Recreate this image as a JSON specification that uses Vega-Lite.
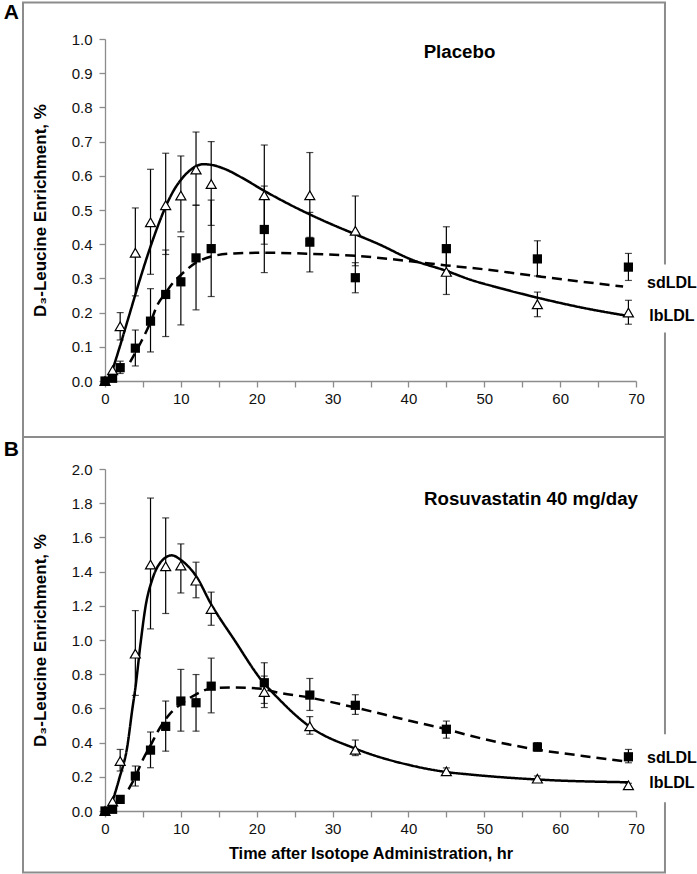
{
  "$schema": "https://vega.github.io/schema/vega-lite/v6.json",
  "background": "white",
  "padding": {"left": 3, "top": 1, "right": 0, "bottom": 0},
  "autosize": {"type": "pad"},
  "spacing": 88,
  "bounds": "flush",
  "config": {
    "font": "Liberation Sans",
    "view": {"stroke": null},
    "axis": {"grid": false, "domainColor": "#8c8c8c", "domainWidth": 1.3, "tickColor": "#8c8c8c", "tickWidth": 1.3, "tickSize": 6, "labelColor": "#111111", "labelFontSize": 15, "labelFont": "Liberation Sans", "titleFont": "Liberation Sans", "titleFontWeight": "bold", "titleColor": "#000000"}
  },
  "datasets": {
    "points": [
      {"panel": "A", "series": "lbLDL", "t": 0, "v": 0.0},
      {"panel": "A", "series": "lbLDL", "t": 1, "v": 0.031},
      {"panel": "A", "series": "lbLDL", "t": 2, "v": 0.16, "lo": 0.12, "hi": 0.2},
      {"panel": "A", "series": "lbLDL", "t": 4, "v": 0.375, "lo": 0.249, "hi": 0.506},
      {"panel": "A", "series": "lbLDL", "t": 6, "v": 0.464, "lo": 0.312, "hi": 0.619},
      {"panel": "A", "series": "lbLDL", "t": 8, "v": 0.514, "lo": 0.37, "hi": 0.666},
      {"panel": "A", "series": "lbLDL", "t": 10, "v": 0.542, "lo": 0.436, "hi": 0.658},
      {"panel": "A", "series": "lbLDL", "t": 12, "v": 0.618, "lo": 0.514, "hi": 0.728},
      {"panel": "A", "series": "lbLDL", "t": 14, "v": 0.576, "lo": 0.455, "hi": 0.7},
      {"panel": "A", "series": "lbLDL", "t": 21, "v": 0.543, "lo": 0.4, "hi": 0.69},
      {"panel": "A", "series": "lbLDL", "t": 27, "v": 0.543, "lo": 0.42, "hi": 0.668},
      {"panel": "A", "series": "lbLDL", "t": 33, "v": 0.439, "lo": 0.337, "hi": 0.541},
      {"panel": "A", "series": "lbLDL", "t": 45, "v": 0.319, "lo": 0.253, "hi": 0.385},
      {"panel": "A", "series": "lbLDL", "t": 57, "v": 0.224, "lo": 0.188, "hi": 0.26},
      {"panel": "A", "series": "lbLDL", "t": 69, "v": 0.2, "lo": 0.166, "hi": 0.236},
      {"panel": "A", "series": "sdLDL", "t": 0, "v": 0.0},
      {"panel": "A", "series": "sdLDL", "t": 1, "v": 0.008},
      {"panel": "A", "series": "sdLDL", "t": 2, "v": 0.039, "lo": 0.022, "hi": 0.058},
      {"panel": "A", "series": "sdLDL", "t": 4, "v": 0.096, "lo": 0.044, "hi": 0.149},
      {"panel": "A", "series": "sdLDL", "t": 6, "v": 0.175, "lo": 0.085, "hi": 0.27},
      {"panel": "A", "series": "sdLDL", "t": 8, "v": 0.253, "lo": 0.13, "hi": 0.383},
      {"panel": "A", "series": "sdLDL", "t": 10, "v": 0.29, "lo": 0.164, "hi": 0.422},
      {"panel": "A", "series": "sdLDL", "t": 12, "v": 0.36, "lo": 0.208, "hi": 0.514},
      {"panel": "A", "series": "sdLDL", "t": 14, "v": 0.387, "lo": 0.247, "hi": 0.529},
      {"panel": "A", "series": "sdLDL", "t": 21, "v": 0.443, "lo": 0.317, "hi": 0.57},
      {"panel": "A", "series": "sdLDL", "t": 27, "v": 0.406, "lo": 0.319, "hi": 0.493},
      {"panel": "A", "series": "sdLDL", "t": 33, "v": 0.302, "lo": 0.258, "hi": 0.346},
      {"panel": "A", "series": "sdLDL", "t": 45, "v": 0.387, "lo": 0.323, "hi": 0.451},
      {"panel": "A", "series": "sdLDL", "t": 57, "v": 0.357, "lo": 0.307, "hi": 0.41},
      {"panel": "A", "series": "sdLDL", "t": 69, "v": 0.333, "lo": 0.294, "hi": 0.373},
      {"panel": "B", "series": "lbLDL", "t": 0, "v": 0.0},
      {"panel": "B", "series": "lbLDL", "t": 1, "v": 0.055},
      {"panel": "B", "series": "lbLDL", "t": 2, "v": 0.292, "lo": 0.234, "hi": 0.36},
      {"panel": "B", "series": "lbLDL", "t": 4, "v": 0.92, "lo": 0.676, "hi": 1.172},
      {"panel": "B", "series": "lbLDL", "t": 6, "v": 1.441, "lo": 1.065, "hi": 1.83},
      {"panel": "B", "series": "lbLDL", "t": 8, "v": 1.431, "lo": 1.155, "hi": 1.714},
      {"panel": "B", "series": "lbLDL", "t": 10, "v": 1.435, "lo": 1.275, "hi": 1.562},
      {"panel": "B", "series": "lbLDL", "t": 12, "v": 1.347, "lo": 1.247, "hi": 1.455},
      {"panel": "B", "series": "lbLDL", "t": 14, "v": 1.181, "lo": 1.086, "hi": 1.28},
      {"panel": "B", "series": "lbLDL", "t": 21, "v": 0.696, "lo": 0.605, "hi": 0.789},
      {"panel": "B", "series": "lbLDL", "t": 27, "v": 0.495, "lo": 0.449, "hi": 0.552},
      {"panel": "B", "series": "lbLDL", "t": 33, "v": 0.358, "lo": 0.324, "hi": 0.415},
      {"panel": "B", "series": "lbLDL", "t": 45, "v": 0.232, "lo": 0.212, "hi": 0.252},
      {"panel": "B", "series": "lbLDL", "t": 57, "v": 0.189, "lo": 0.172, "hi": 0.205},
      {"panel": "B", "series": "lbLDL", "t": 69, "v": 0.15, "lo": 0.14, "hi": 0.162},
      {"panel": "B", "series": "sdLDL", "t": 0, "v": 0.0},
      {"panel": "B", "series": "sdLDL", "t": 1, "v": 0.01},
      {"panel": "B", "series": "sdLDL", "t": 2, "v": 0.068},
      {"panel": "B", "series": "sdLDL", "t": 4, "v": 0.204, "lo": 0.146, "hi": 0.263},
      {"panel": "B", "series": "sdLDL", "t": 6, "v": 0.356, "lo": 0.253, "hi": 0.462},
      {"panel": "B", "series": "sdLDL", "t": 8, "v": 0.495, "lo": 0.35, "hi": 0.643},
      {"panel": "B", "series": "sdLDL", "t": 10, "v": 0.643, "lo": 0.467, "hi": 0.828},
      {"panel": "B", "series": "sdLDL", "t": 12, "v": 0.633, "lo": 0.467, "hi": 0.798},
      {"panel": "B", "series": "sdLDL", "t": 14, "v": 0.73, "lo": 0.574, "hi": 0.894},
      {"panel": "B", "series": "sdLDL", "t": 21, "v": 0.75, "lo": 0.629, "hi": 0.867},
      {"panel": "B", "series": "sdLDL", "t": 27, "v": 0.678, "lo": 0.588, "hi": 0.775},
      {"panel": "B", "series": "sdLDL", "t": 33, "v": 0.618, "lo": 0.565, "hi": 0.68},
      {"panel": "B", "series": "sdLDL", "t": 45, "v": 0.478, "lo": 0.426, "hi": 0.526},
      {"panel": "B", "series": "sdLDL", "t": 57, "v": 0.374, "lo": 0.35, "hi": 0.4},
      {"panel": "B", "series": "sdLDL", "t": 69, "v": 0.317, "lo": 0.282, "hi": 0.36}
    ],
    "fits": [
      {"panel": "A", "series": "lbLDL", "t": 0.6, "v": 0.005},
      {"panel": "A", "series": "lbLDL", "t": 1.85, "v": 0.093},
      {"panel": "A", "series": "lbLDL", "t": 3.16, "v": 0.19},
      {"panel": "A", "series": "lbLDL", "t": 4.48, "v": 0.288},
      {"panel": "A", "series": "lbLDL", "t": 5.8, "v": 0.38},
      {"panel": "A", "series": "lbLDL", "t": 7, "v": 0.455},
      {"panel": "A", "series": "lbLDL", "t": 8, "v": 0.51},
      {"panel": "A", "series": "lbLDL", "t": 9, "v": 0.555},
      {"panel": "A", "series": "lbLDL", "t": 10, "v": 0.588},
      {"panel": "A", "series": "lbLDL", "t": 11, "v": 0.612},
      {"panel": "A", "series": "lbLDL", "t": 12, "v": 0.628},
      {"panel": "A", "series": "lbLDL", "t": 13, "v": 0.634},
      {"panel": "A", "series": "lbLDL", "t": 14, "v": 0.632},
      {"panel": "A", "series": "lbLDL", "t": 16, "v": 0.618},
      {"panel": "A", "series": "lbLDL", "t": 18, "v": 0.595},
      {"panel": "A", "series": "lbLDL", "t": 21, "v": 0.556},
      {"panel": "A", "series": "lbLDL", "t": 24, "v": 0.52},
      {"panel": "A", "series": "lbLDL", "t": 27, "v": 0.487},
      {"panel": "A", "series": "lbLDL", "t": 30, "v": 0.457},
      {"panel": "A", "series": "lbLDL", "t": 33, "v": 0.429},
      {"panel": "A", "series": "lbLDL", "t": 36, "v": 0.401},
      {"panel": "A", "series": "lbLDL", "t": 40.3, "v": 0.356},
      {"panel": "A", "series": "lbLDL", "t": 45, "v": 0.322},
      {"panel": "A", "series": "lbLDL", "t": 48.2, "v": 0.296},
      {"panel": "A", "series": "lbLDL", "t": 52, "v": 0.272},
      {"panel": "A", "series": "lbLDL", "t": 57.5, "v": 0.241},
      {"panel": "A", "series": "lbLDL", "t": 63, "v": 0.214},
      {"panel": "A", "series": "lbLDL", "t": 69, "v": 0.19},
      {"panel": "A", "series": "sdLDL", "t": 3.3, "v": 0.055},
      {"panel": "A", "series": "sdLDL", "t": 4.7, "v": 0.112},
      {"panel": "A", "series": "sdLDL", "t": 6, "v": 0.172},
      {"panel": "A", "series": "sdLDL", "t": 6.9, "v": 0.222},
      {"panel": "A", "series": "sdLDL", "t": 8, "v": 0.258},
      {"panel": "A", "series": "sdLDL", "t": 9, "v": 0.288},
      {"panel": "A", "series": "sdLDL", "t": 10, "v": 0.31},
      {"panel": "A", "series": "sdLDL", "t": 12, "v": 0.346},
      {"panel": "A", "series": "sdLDL", "t": 14, "v": 0.364},
      {"panel": "A", "series": "sdLDL", "t": 17, "v": 0.373},
      {"panel": "A", "series": "sdLDL", "t": 21, "v": 0.375},
      {"panel": "A", "series": "sdLDL", "t": 27, "v": 0.372},
      {"panel": "A", "series": "sdLDL", "t": 33, "v": 0.366},
      {"panel": "A", "series": "sdLDL", "t": 40.3, "v": 0.35},
      {"panel": "A", "series": "sdLDL", "t": 45, "v": 0.338},
      {"panel": "A", "series": "sdLDL", "t": 48.2, "v": 0.331},
      {"panel": "A", "series": "sdLDL", "t": 57.5, "v": 0.305},
      {"panel": "A", "series": "sdLDL", "t": 63, "v": 0.29},
      {"panel": "A", "series": "sdLDL", "t": 68.3, "v": 0.276},
      {"panel": "B", "series": "lbLDL", "t": 0.5, "v": 0.0},
      {"panel": "B", "series": "lbLDL", "t": 1, "v": 0.06},
      {"panel": "B", "series": "lbLDL", "t": 1.85, "v": 0.185},
      {"panel": "B", "series": "lbLDL", "t": 2.95, "v": 0.38},
      {"panel": "B", "series": "lbLDL", "t": 3.6, "v": 0.595},
      {"panel": "B", "series": "lbLDL", "t": 4.04, "v": 0.731},
      {"panel": "B", "series": "lbLDL", "t": 4.7, "v": 0.985},
      {"panel": "B", "series": "lbLDL", "t": 5.36, "v": 1.2},
      {"panel": "B", "series": "lbLDL", "t": 6.24, "v": 1.355},
      {"panel": "B", "series": "lbLDL", "t": 7.3, "v": 1.453},
      {"panel": "B", "series": "lbLDL", "t": 8.8, "v": 1.495},
      {"panel": "B", "series": "lbLDL", "t": 10, "v": 1.468},
      {"panel": "B", "series": "lbLDL", "t": 12, "v": 1.374},
      {"panel": "B", "series": "lbLDL", "t": 14, "v": 1.209},
      {"panel": "B", "series": "lbLDL", "t": 17, "v": 1.004},
      {"panel": "B", "series": "lbLDL", "t": 21, "v": 0.745},
      {"panel": "B", "series": "lbLDL", "t": 21.9, "v": 0.702},
      {"panel": "B", "series": "lbLDL", "t": 27, "v": 0.493},
      {"panel": "B", "series": "lbLDL", "t": 33, "v": 0.365},
      {"panel": "B", "series": "lbLDL", "t": 40.3, "v": 0.267},
      {"panel": "B", "series": "lbLDL", "t": 45, "v": 0.228},
      {"panel": "B", "series": "lbLDL", "t": 48.2, "v": 0.213},
      {"panel": "B", "series": "lbLDL", "t": 57.5, "v": 0.183},
      {"panel": "B", "series": "lbLDL", "t": 69, "v": 0.168},
      {"panel": "B", "series": "sdLDL", "t": 3.1, "v": 0.127},
      {"panel": "B", "series": "sdLDL", "t": 4, "v": 0.2},
      {"panel": "B", "series": "sdLDL", "t": 4.9, "v": 0.292},
      {"panel": "B", "series": "sdLDL", "t": 6.2, "v": 0.4},
      {"panel": "B", "series": "sdLDL", "t": 6.9, "v": 0.46},
      {"panel": "B", "series": "sdLDL", "t": 8.7, "v": 0.575},
      {"panel": "B", "series": "sdLDL", "t": 10, "v": 0.625},
      {"panel": "B", "series": "sdLDL", "t": 12, "v": 0.682},
      {"panel": "B", "series": "sdLDL", "t": 14, "v": 0.717},
      {"panel": "B", "series": "sdLDL", "t": 17, "v": 0.722},
      {"panel": "B", "series": "sdLDL", "t": 21, "v": 0.714},
      {"panel": "B", "series": "sdLDL", "t": 21.9, "v": 0.702},
      {"panel": "B", "series": "sdLDL", "t": 27, "v": 0.663},
      {"panel": "B", "series": "sdLDL", "t": 33, "v": 0.605},
      {"panel": "B", "series": "sdLDL", "t": 40.3, "v": 0.526},
      {"panel": "B", "series": "sdLDL", "t": 45, "v": 0.478},
      {"panel": "B", "series": "sdLDL", "t": 48.2, "v": 0.44},
      {"panel": "B", "series": "sdLDL", "t": 57.5, "v": 0.355},
      {"panel": "B", "series": "sdLDL", "t": 63, "v": 0.322},
      {"panel": "B", "series": "sdLDL", "t": 68.2, "v": 0.292}
    ],
    "notes": [
      {"panel": "A", "kind": "title", "text": "Placebo", "t": 46.73, "v": 0.943},
      {"panel": "B", "kind": "title", "text": "Rosuvastatin 40 mg/day", "t": 56.16, "v": 1.788},
      {"panel": "A", "kind": "series", "text": "sdLDL", "t": 71.45, "v": 0.273},
      {"panel": "A", "kind": "series", "text": "lbLDL", "t": 71.75, "v": 0.175},
      {"panel": "B", "kind": "series", "text": "sdLDL", "t": 71.45, "v": 0.283},
      {"panel": "B", "kind": "series", "text": "lbLDL", "t": 71.75, "v": 0.137},
      {"panel": "A", "kind": "letter", "text": "A", "t": -13.35, "v": 1.0576},
      {"panel": "B", "kind": "letter", "text": "B", "t": -13.35, "v": 2.076}
    ],
    "frames": [
      {"panel": "A", "part": "frame", "t1": -10.81, "t2": 73.82, "v1": 1.1067, "v2": -0.1637},
      {"panel": "A", "part": "gap", "t1": 72.5, "t2": 75.5, "v1": 0.341, "v2": 0.142},
      {"panel": "B", "part": "frame", "t1": -10.81, "t2": 73.82, "v1": 2.187, "v2": -0.3596},
      {"panel": "B", "part": "gap", "t1": 72.5, "t2": 75.5, "v1": 0.449, "v2": 0.051}
    ]
  },
  "vconcat": [
    {
      "width": 531,
      "height": 342,
      "encoding": {
        "x": {"type": "quantitative", "scale": {"domain": [0, 70], "nice": false, "zero": false},
              "axis": {"values": [0, 5, 10, 15, 20, 25, 30, 35, 40, 45, 50, 55, 60, 65, 70], "labelExpr": "datum.value % 10 === 0 ? datum.label : ''", "title": null, "labelPadding": 4, "labelFlush": false, "labelOverlap": false}},
        "y": {"type": "quantitative", "scale": {"domain": [0, 1], "nice": false, "zero": false},
              "axis": {"values": [0, 0.1, 0.2, 0.3, 0.4, 0.5, 0.6, 0.7, 0.8, 0.9, 1.0], "format": ".1f", "title": "D₃-Leucine Enrichment, %", "titleFontSize": 17, "titlePadding": 22, "labelPadding": 7, "labelFlush": false, "labelOverlap": false}}
      },
      "layer": [
        {
          "data": {"name": "frames"},
          "transform": [{"filter": "datum.panel === 'A' && datum.part === 'frame'"}],
          "mark": {"type": "rect", "fill": "transparent", "stroke": "#8c8c8c", "strokeWidth": 2, "clip": false},
          "encoding": {"x": {"field": "t1"}, "x2": {"field": "t2"}, "y": {"field": "v1"}, "y2": {"field": "v2"}}
        },
        {
          "data": {"name": "frames"},
          "transform": [{"filter": "datum.panel === 'A' && datum.part === 'gap'"}],
          "mark": {"type": "rect", "fill": "white", "clip": false},
          "encoding": {"x": {"field": "t1"}, "x2": {"field": "t2"}, "y": {"field": "v1"}, "y2": {"field": "v2"}}
        },
        {
          "data": {"name": "points"},
          "transform": [{"filter": "datum.panel === 'A' && isValid(datum.lo)"}],
          "mark": {"type": "rule", "color": "black", "strokeWidth": 1.2},
          "encoding": {"x": {"field": "t"}, "y": {"field": "lo"}, "y2": {"field": "hi"}}
        },
        {
          "data": {"name": "points"},
          "transform": [{"filter": "datum.panel === 'A' && isValid(datum.lo)"}],
          "mark": {"type": "tick", "orient": "horizontal", "size": 7, "thickness": 1.2, "color": "black"},
          "encoding": {"x": {"field": "t"}, "y": {"field": "lo"}}
        },
        {
          "data": {"name": "points"},
          "transform": [{"filter": "datum.panel === 'A' && isValid(datum.lo)"}],
          "mark": {"type": "tick", "orient": "horizontal", "size": 7, "thickness": 1.2, "color": "black"},
          "encoding": {"x": {"field": "t"}, "y": {"field": "hi"}}
        },
        {
          "data": {"name": "fits"},
          "transform": [{"filter": "datum.panel === 'A'"}],
          "mark": {"type": "line", "interpolate": "monotone", "color": "black", "strokeWidth": 2.5},
          "encoding": {
            "x": {"field": "t"}, "y": {"field": "v"},
            "detail": {"field": "series", "type": "nominal"},
            "strokeDash": {"field": "series", "type": "nominal", "scale": {"domain": ["lbLDL", "sdLDL"], "range": [[1, 0], [10, 6]]}, "legend": null}
          }
        },
        {
          "data": {"name": "points"},
          "transform": [{"filter": "datum.panel === 'A' && datum.series === 'lbLDL'"}],
          "mark": {"type": "point", "shape": "triangle-up", "filled": true, "fill": "white", "stroke": "black", "strokeWidth": 1.2, "size": 100, "opacity": 1},
          "encoding": {"x": {"field": "t"}, "y": {"field": "v"}}
        },
        {
          "data": {"name": "points"},
          "transform": [{"filter": "datum.panel === 'A' && datum.series === 'sdLDL'"}],
          "mark": {"type": "point", "shape": "square", "filled": true, "color": "black", "size": 85, "opacity": 1},
          "encoding": {"x": {"field": "t"}, "y": {"field": "v"}}
        },
        {
          "data": {"name": "notes"},
          "transform": [{"filter": "datum.panel === 'A' && datum.kind === 'title'"}],
          "mark": {"type": "text", "align": "center", "baseline": "alphabetic", "fontSize": 18.7, "fontWeight": "bold", "color": "black", "clip": false},
          "encoding": {"x": {"field": "t"}, "y": {"field": "v"}, "text": {"field": "text"}}
        },
        {
          "data": {"name": "notes"},
          "transform": [{"filter": "datum.panel === 'A' && datum.kind === 'series'"}],
          "mark": {"type": "text", "align": "left", "baseline": "alphabetic", "fontSize": 16, "fontWeight": "bold", "color": "black", "clip": false},
          "encoding": {"x": {"field": "t"}, "y": {"field": "v"}, "text": {"field": "text"}}
        },
        {
          "data": {"name": "notes"},
          "transform": [{"filter": "datum.panel === 'A' && datum.kind === 'letter'"}],
          "mark": {"type": "text", "align": "left", "baseline": "alphabetic", "fontSize": 21, "fontWeight": "bold", "color": "black", "clip": false},
          "encoding": {"x": {"field": "t"}, "y": {"field": "v"}, "text": {"field": "text"}}
        }
      ]
    },
    {
      "width": 531,
      "height": 342,
      "encoding": {
        "x": {"type": "quantitative", "scale": {"domain": [0, 70], "nice": false, "zero": false},
              "axis": {"values": [0, 5, 10, 15, 20, 25, 30, 35, 40, 45, 50, 55, 60, 65, 70], "labelExpr": "datum.value % 10 === 0 ? datum.label : ''", "title": "Time after Isotope Administration, hr", "titleFontSize": 16.3, "titlePadding": 9, "labelPadding": 4, "labelFlush": false, "labelOverlap": false}},
        "y": {"type": "quantitative", "scale": {"domain": [0, 2], "nice": false, "zero": false},
              "axis": {"values": [0, 0.2, 0.4, 0.6, 0.8, 1.0, 1.2, 1.4, 1.6, 1.8, 2.0], "format": ".1f", "title": "D₃-Leucine Enrichment, %", "titleFontSize": 17, "titlePadding": 22, "labelPadding": 7, "labelFlush": false, "labelOverlap": false}}
      },
      "layer": [
        {
          "data": {"name": "frames"},
          "transform": [{"filter": "datum.panel === 'B' && datum.part === 'frame'"}],
          "mark": {"type": "rect", "fill": "transparent", "stroke": "#8c8c8c", "strokeWidth": 2, "clip": false},
          "encoding": {"x": {"field": "t1"}, "x2": {"field": "t2"}, "y": {"field": "v1"}, "y2": {"field": "v2"}}
        },
        {
          "data": {"name": "frames"},
          "transform": [{"filter": "datum.panel === 'B' && datum.part === 'gap'"}],
          "mark": {"type": "rect", "fill": "white", "clip": false},
          "encoding": {"x": {"field": "t1"}, "x2": {"field": "t2"}, "y": {"field": "v1"}, "y2": {"field": "v2"}}
        },
        {
          "data": {"name": "points"},
          "transform": [{"filter": "datum.panel === 'B' && isValid(datum.lo)"}],
          "mark": {"type": "rule", "color": "black", "strokeWidth": 1.2},
          "encoding": {"x": {"field": "t"}, "y": {"field": "lo"}, "y2": {"field": "hi"}}
        },
        {
          "data": {"name": "points"},
          "transform": [{"filter": "datum.panel === 'B' && isValid(datum.lo)"}],
          "mark": {"type": "tick", "orient": "horizontal", "size": 7, "thickness": 1.2, "color": "black"},
          "encoding": {"x": {"field": "t"}, "y": {"field": "lo"}}
        },
        {
          "data": {"name": "points"},
          "transform": [{"filter": "datum.panel === 'B' && isValid(datum.lo)"}],
          "mark": {"type": "tick", "orient": "horizontal", "size": 7, "thickness": 1.2, "color": "black"},
          "encoding": {"x": {"field": "t"}, "y": {"field": "hi"}}
        },
        {
          "data": {"name": "fits"},
          "transform": [{"filter": "datum.panel === 'B'"}],
          "mark": {"type": "line", "interpolate": "monotone", "color": "black", "strokeWidth": 2.5},
          "encoding": {
            "x": {"field": "t"}, "y": {"field": "v"},
            "detail": {"field": "series", "type": "nominal"},
            "strokeDash": {"field": "series", "type": "nominal", "scale": {"domain": ["lbLDL", "sdLDL"], "range": [[1, 0], [10, 6]]}, "legend": null}
          }
        },
        {
          "data": {"name": "points"},
          "transform": [{"filter": "datum.panel === 'B' && datum.series === 'lbLDL'"}],
          "mark": {"type": "point", "shape": "triangle-up", "filled": true, "fill": "white", "stroke": "black", "strokeWidth": 1.2, "size": 100, "opacity": 1},
          "encoding": {"x": {"field": "t"}, "y": {"field": "v"}}
        },
        {
          "data": {"name": "points"},
          "transform": [{"filter": "datum.panel === 'B' && datum.series === 'sdLDL'"}],
          "mark": {"type": "point", "shape": "square", "filled": true, "color": "black", "size": 85, "opacity": 1},
          "encoding": {"x": {"field": "t"}, "y": {"field": "v"}}
        },
        {
          "data": {"name": "notes"},
          "transform": [{"filter": "datum.panel === 'B' && datum.kind === 'title'"}],
          "mark": {"type": "text", "align": "center", "baseline": "alphabetic", "fontSize": 18.7, "fontWeight": "bold", "color": "black", "clip": false},
          "encoding": {"x": {"field": "t"}, "y": {"field": "v"}, "text": {"field": "text"}}
        },
        {
          "data": {"name": "notes"},
          "transform": [{"filter": "datum.panel === 'B' && datum.kind === 'series'"}],
          "mark": {"type": "text", "align": "left", "baseline": "alphabetic", "fontSize": 16, "fontWeight": "bold", "color": "black", "clip": false},
          "encoding": {"x": {"field": "t"}, "y": {"field": "v"}, "text": {"field": "text"}}
        },
        {
          "data": {"name": "notes"},
          "transform": [{"filter": "datum.panel === 'B' && datum.kind === 'letter'"}],
          "mark": {"type": "text", "align": "left", "baseline": "alphabetic", "fontSize": 21, "fontWeight": "bold", "color": "black", "clip": false},
          "encoding": {"x": {"field": "t"}, "y": {"field": "v"}, "text": {"field": "text"}}
        }
      ]
    }
  ]
}
